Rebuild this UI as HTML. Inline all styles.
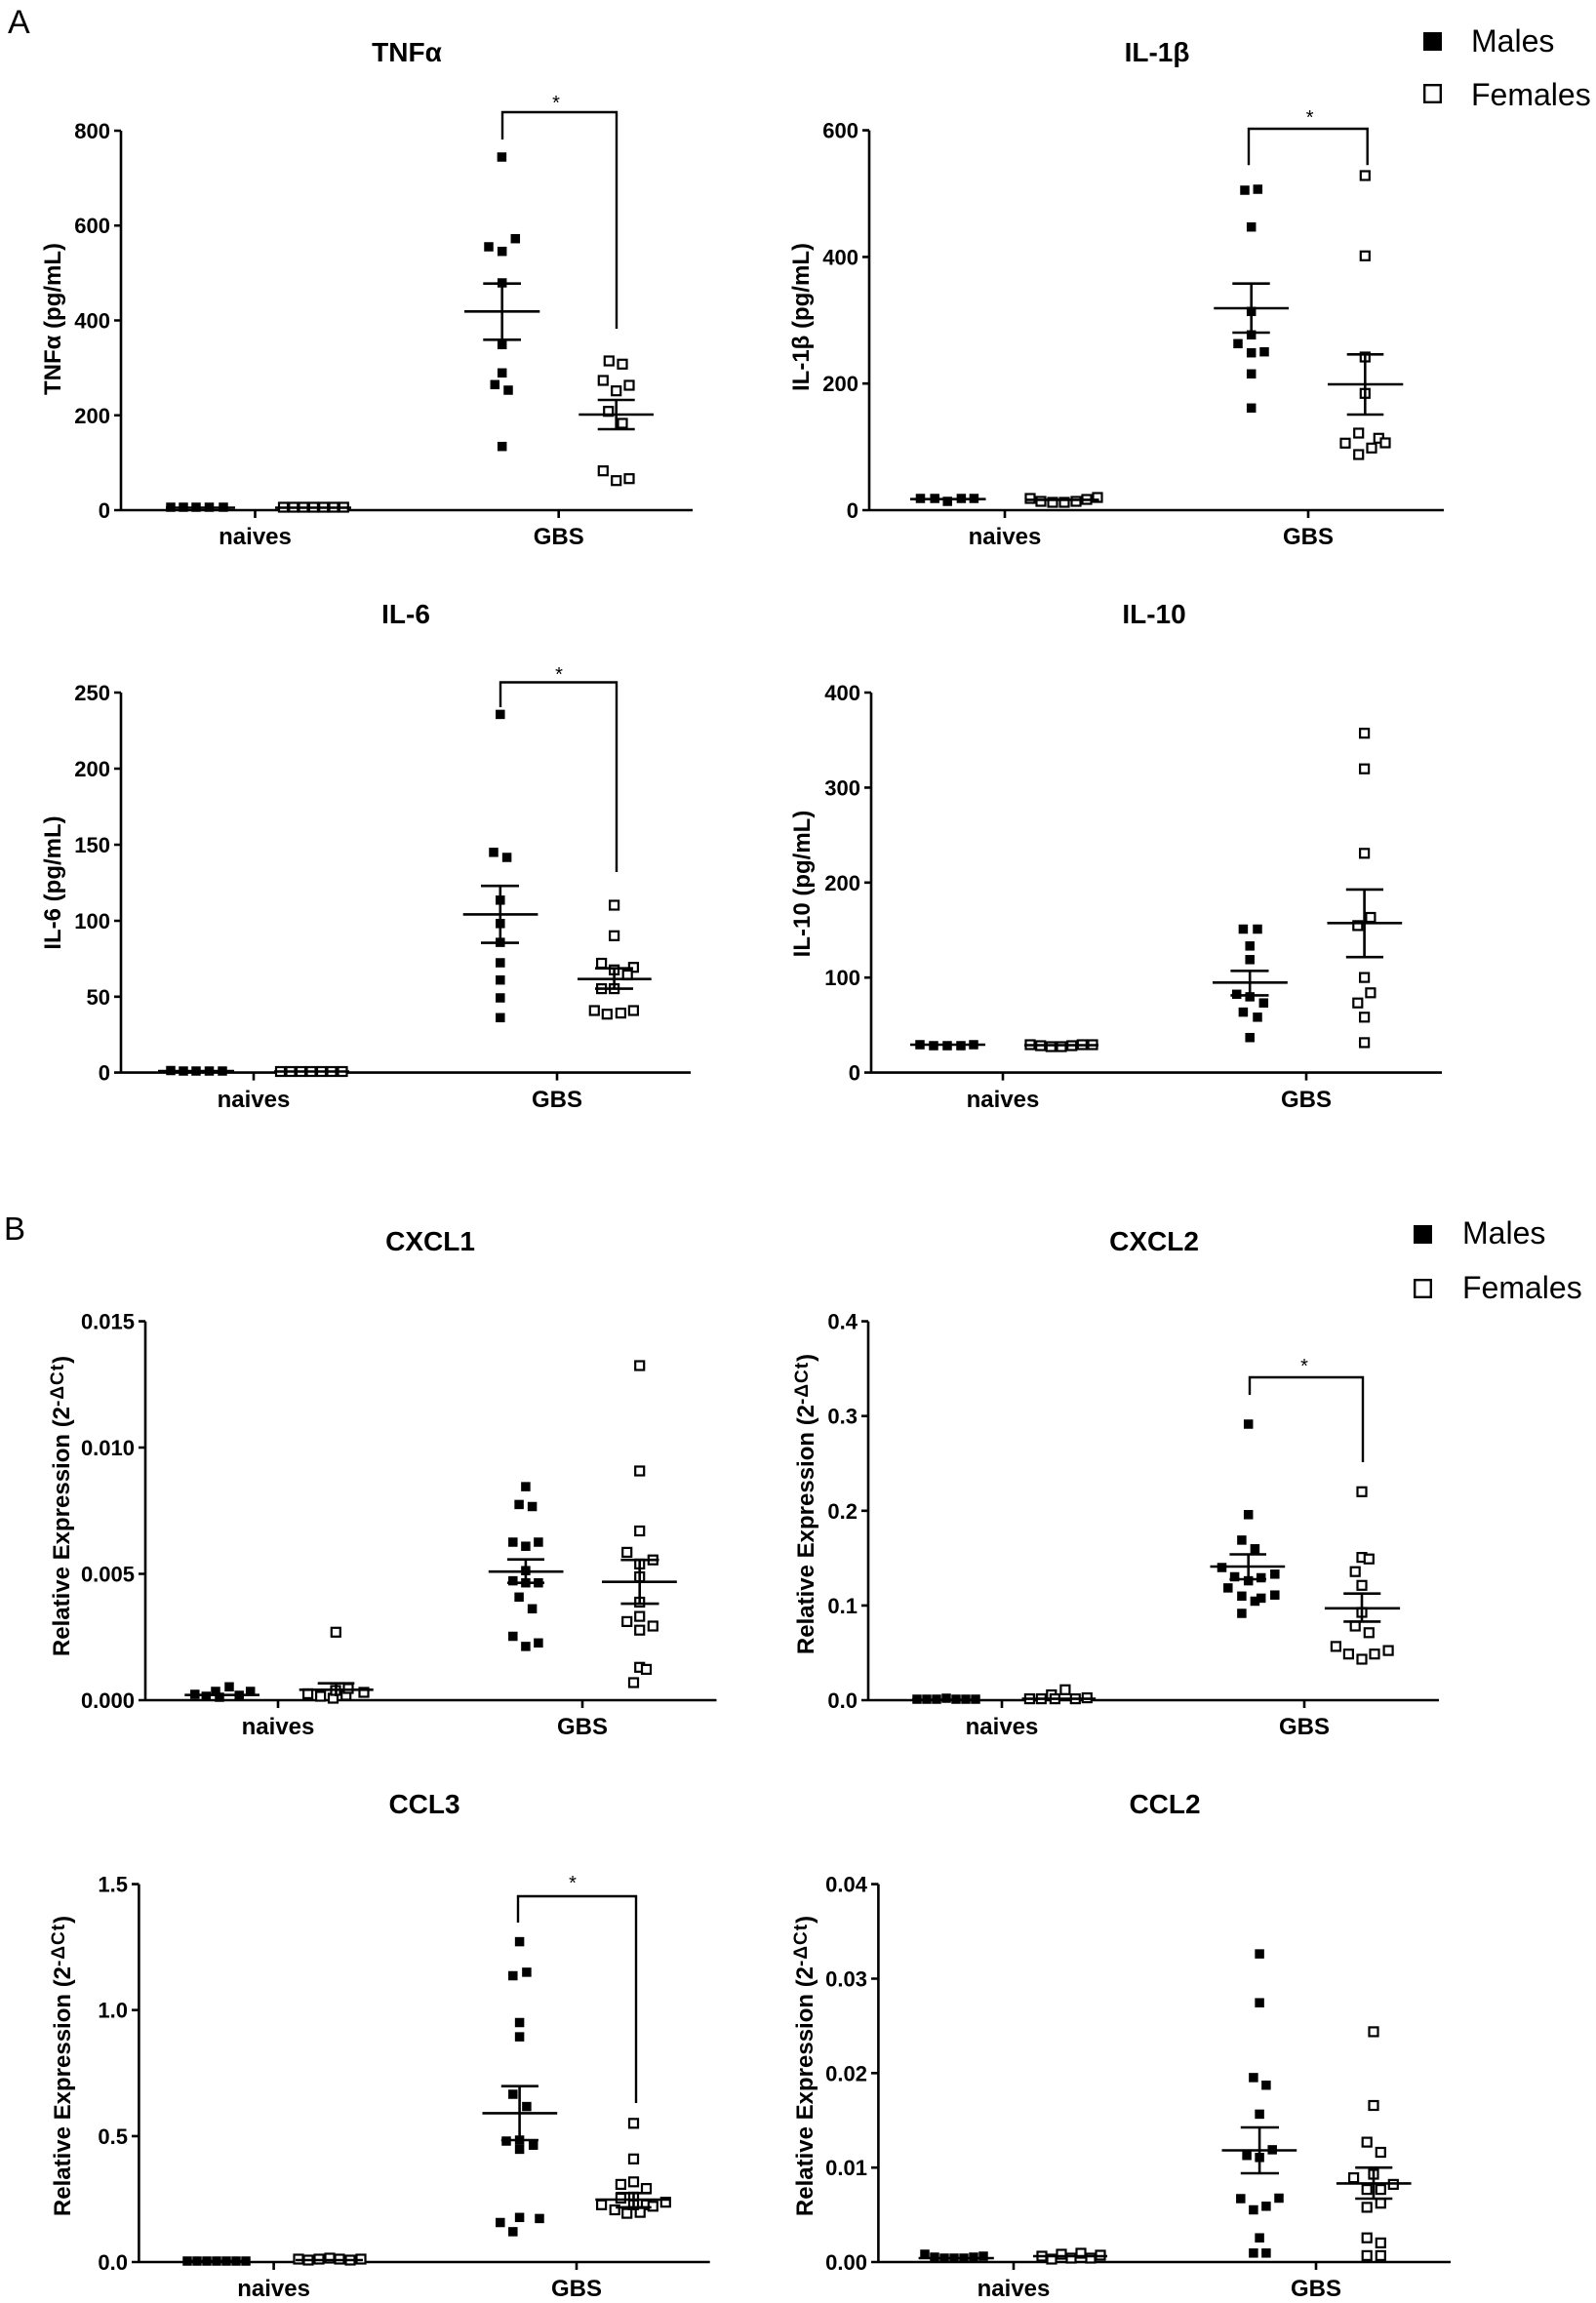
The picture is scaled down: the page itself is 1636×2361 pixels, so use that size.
<!DOCTYPE html>
<html><head><meta charset="utf-8"><style>
html,body{margin:0;padding:0;background:#fff;}
svg{display:block;}
text{font-family:"Liberation Sans",Arial,sans-serif;fill:#000;}
.t{font-size:28px;font-weight:bold;text-anchor:middle;}
.k{font-size:22px;font-weight:bold;text-anchor:end;}
.c{font-size:24px;font-weight:bold;text-anchor:middle;}
.y{font-size:24px;font-weight:bold;text-anchor:middle;}
.sp{font-size:19px;font-weight:bold;letter-spacing:1px;}
.s{font-size:20px;text-anchor:middle;}
.lg{font-size:32px;}
.ax{fill:none;stroke:#000;stroke-width:2.6;}
.ln{fill:none;stroke:#000;stroke-width:2.6;}
.br{fill:none;stroke:#000;stroke-width:2.4;}
</style></head><body>
<svg width="1636" height="2361" viewBox="0 0 1636 2361" xmlns="http://www.w3.org/2000/svg">
<defs>
<rect id="m" x="-4.75" y="-4.75" width="9.5" height="9.5" fill="#000"/>
<rect id="o" x="-4.5" y="-4.5" width="9" height="9" fill="#fff" stroke="#000" stroke-width="2.2"/>
</defs>
<rect width="1636" height="2361" fill="#fff"/>

<!-- Panel labels -->
<text x="8" y="34" style="font-size:34px">A</text>
<text x="4" y="1271" style="font-size:33px">B</text>

<!-- Legends -->
<rect x="1459" y="33" width="19" height="19" fill="#000"/>
<rect x="1460.2" y="87.2" width="16.6" height="17.6" fill="#fff" stroke="#000" stroke-width="2.4"/>
<text class="lg" x="1508" y="53">Males</text>
<text class="lg" x="1508" y="108">Females</text>
<rect x="1449" y="1256" width="19" height="19" fill="#000"/>
<rect x="1450.2" y="1312.2" width="16.6" height="17.6" fill="#fff" stroke="#000" stroke-width="2.4"/>
<text class="lg" x="1499" y="1275">Males</text>
<text class="lg" x="1499" y="1331">Females</text>

<!-- ================= P1 TNFa ================= -->
<text class="t" x="417" y="63">TNFα</text>
<path class="ax" d="M124,134V523M117,523H710M117,134H124M117,231.25H124M117,328.5H124M117,425.75H124M261.5,523V531M572.7,523V531"/>
<text class="k" x="113" y="142">800</text>
<text class="k" x="113" y="239">600</text>
<text class="k" x="113" y="336.5">400</text>
<text class="k" x="113" y="434">200</text>
<text class="k" x="113" y="531">0</text>
<text class="c" x="261.5" y="558">naives</text>
<text class="c" x="572.7" y="558">GBS</text>
<text class="y" transform="translate(62,327) rotate(-90)">TNFα (pg/mL)</text>
<path class="br" d="M515,143V115H632V337"/>
<text class="s" x="570" y="112">*</text>
<g>
<use href="#m" x="175" y="520"/><use href="#m" x="188" y="520"/><use href="#m" x="201" y="520"/><use href="#m" x="214.5" y="520"/><use href="#m" x="229" y="520"/>
<use href="#o" x="290.5" y="520"/><use href="#o" x="300.8" y="520"/><use href="#o" x="311" y="520"/><use href="#o" x="321.4" y="520"/><use href="#o" x="331.7" y="520"/><use href="#o" x="342" y="520"/><use href="#o" x="352.3" y="520"/>
<use href="#m" x="514.4" y="161"/><use href="#m" x="528.3" y="244.7"/><use href="#m" x="501" y="253"/><use href="#m" x="514.7" y="257.7"/><use href="#m" x="514.7" y="290"/><use href="#m" x="514.7" y="353.3"/><use href="#m" x="514.7" y="382.3"/><use href="#m" x="507.3" y="394.3"/><use href="#m" x="521" y="400"/><use href="#m" x="514.7" y="457.7"/>
<use href="#o" x="624.3" y="370"/><use href="#o" x="638" y="373.3"/><use href="#o" x="618.3" y="390"/><use href="#o" x="645" y="395"/><use href="#o" x="631.7" y="400.7"/><use href="#o" x="623.7" y="421.7"/><use href="#o" x="638" y="434"/><use href="#o" x="618.3" y="482.7"/><use href="#o" x="631.7" y="492.7"/><use href="#o" x="645" y="490.7"/>
</g>
<path class="ln" d="M170,520.5H241M282,520.5H360M476,319.3H553.3M514.7,290.7V348.3M495.3,290.7H534M495.3,348.3H534M593.3,425H670M631.7,410V440M612.7,410H650.7M612.7,440H650.7"/>

<!-- ================= P2 IL-1b ================= -->
<text class="t" x="1186" y="63">IL-1β</text>
<path class="ax" d="M891,133.6V523M884,523H1480M884,133.6H891M884,263.4H891M884,393.2H891M1030,523V531M1341,523V531"/>
<text class="k" x="880" y="141.6">600</text>
<text class="k" x="880" y="271.4">400</text>
<text class="k" x="880" y="401.2">200</text>
<text class="k" x="880" y="531">0</text>
<text class="c" x="1030" y="558">naives</text>
<text class="c" x="1341" y="558">GBS</text>
<text class="y" transform="translate(829,325) rotate(-90)">IL-1β (pg/mL)</text>
<path class="br" d="M1280,169.3V132H1401.7V169.3"/>
<text class="s" x="1342.7" y="127">*</text>
<g>
<use href="#m" x="943.5" y="511"/><use href="#m" x="958.2" y="511"/><use href="#m" x="971.2" y="514"/><use href="#m" x="985.4" y="511"/><use href="#m" x="998.4" y="511"/>
<use href="#o" x="1056" y="511"/><use href="#o" x="1067" y="514"/><use href="#o" x="1079" y="515"/><use href="#o" x="1091" y="515"/><use href="#o" x="1103" y="514"/><use href="#o" x="1114" y="512"/><use href="#o" x="1125" y="510"/>
<use href="#m" x="1276" y="195"/><use href="#m" x="1289.3" y="194"/><use href="#m" x="1282.7" y="232.7"/><use href="#m" x="1282.7" y="319.3"/><use href="#m" x="1282.7" y="343.3"/><use href="#m" x="1269" y="352.3"/><use href="#m" x="1296" y="360.7"/><use href="#m" x="1282.7" y="361.7"/><use href="#m" x="1282.7" y="383.3"/><use href="#m" x="1282.7" y="418.3"/>
<use href="#o" x="1399.3" y="180"/><use href="#o" x="1399.3" y="262.3"/><use href="#o" x="1399.3" y="366"/><use href="#o" x="1399.3" y="403.3"/><use href="#o" x="1392.7" y="444"/><use href="#o" x="1379" y="454.3"/><use href="#o" x="1413.3" y="449.3"/><use href="#o" x="1406" y="459.3"/><use href="#o" x="1420" y="454"/><use href="#o" x="1392.7" y="466"/>
</g>
<path class="ln" d="M933,511.7H1010.5M1050.7,512.4H1126.6M1244.3,316H1321M1282.7,290.7V341M1263.3,290.7H1301.7M1263.3,341H1301.7M1361,394H1438.3M1399.3,363.3V425M1380.7,363.3H1418.3M1380.7,425H1418.3"/>

<!-- ================= P3 IL-6 ================= -->
<text class="t" x="416" y="639">IL-6</text>
<path class="ax" d="M124,710V1099.6M117,1099.6H708M117,710H124M117,788H124M117,866H124M117,944H124M117,1021.8H124M260,1099.6V1107.6M571,1099.6V1107.6"/>
<text class="k" x="113" y="718">250</text>
<text class="k" x="113" y="796">200</text>
<text class="k" x="113" y="874">150</text>
<text class="k" x="113" y="952">100</text>
<text class="k" x="113" y="1030">50</text>
<text class="k" x="113" y="1107.6">0</text>
<text class="c" x="260" y="1135">naives</text>
<text class="c" x="571" y="1135">GBS</text>
<text class="y" transform="translate(62,905) rotate(-90)">IL-6 (pg/mL)</text>
<path class="br" d="M513,725V699.5H632V894"/>
<text class="s" x="573" y="698">*</text>
<g>
<use href="#m" x="175" y="1097.5"/><use href="#m" x="188" y="1098"/><use href="#m" x="201" y="1098"/><use href="#m" x="214.5" y="1098"/><use href="#m" x="228" y="1098"/>
<use href="#o" x="287.5" y="1098.5"/><use href="#o" x="298" y="1098.5"/><use href="#o" x="308.5" y="1098.5"/><use href="#o" x="319" y="1098.5"/><use href="#o" x="329.5" y="1098.5"/><use href="#o" x="340" y="1098.5"/><use href="#o" x="351" y="1098.5"/>
<use href="#m" x="512.8" y="732.4"/><use href="#m" x="506" y="873.8"/><use href="#m" x="519.6" y="879"/><use href="#m" x="512.8" y="922.8"/><use href="#m" x="512.8" y="946.8"/><use href="#m" x="512.8" y="966.1"/><use href="#m" x="512.8" y="987"/><use href="#m" x="512.8" y="1004.7"/><use href="#m" x="512.8" y="1023"/><use href="#m" x="512.8" y="1043.3"/>
<use href="#o" x="629.6" y="928"/><use href="#o" x="629.6" y="959.3"/><use href="#o" x="616.6" y="987.5"/><use href="#o" x="649.4" y="991.7"/><use href="#o" x="629.6" y="994.3"/><use href="#o" x="643.2" y="999.5"/><use href="#o" x="616.6" y="1013.6"/><use href="#o" x="629.6" y="1013.6"/><use href="#o" x="609.3" y="1036"/><use href="#o" x="622.3" y="1039.7"/><use href="#o" x="636.4" y="1038.6"/><use href="#o" x="649.4" y="1036"/>
</g>
<path class="ln" d="M162,1098H240M281,1098.5H358M474.7,937.4H551.4M512.8,908.2V966.6M493,908.2H532M493,966.6H532M592,1003.7H667.7M629.6,992.7V1013.6M610,992.7H649M610,1013.6H649"/>

<!-- ================= P4 IL-10 ================= -->
<text class="t" x="1183" y="639">IL-10</text>
<path class="ax" d="M893,710V1099.6M886,1099.6H1478M886,710H893M886,807.4H893M886,904.8H893M886,1002.2H893M1028,1099.6V1107.6M1339,1099.6V1107.6"/>
<text class="k" x="882" y="718">400</text>
<text class="k" x="882" y="815.4">300</text>
<text class="k" x="882" y="912.8">200</text>
<text class="k" x="882" y="1010.2">100</text>
<text class="k" x="882" y="1107.6">0</text>
<text class="c" x="1028" y="1135">naives</text>
<text class="c" x="1339" y="1135">GBS</text>
<text class="y" transform="translate(830,906) rotate(-90)">IL-10 (pg/mL)</text>
<g>
<use href="#m" x="943" y="1071"/><use href="#m" x="957" y="1072"/><use href="#m" x="971" y="1072"/><use href="#m" x="985" y="1072"/><use href="#m" x="998" y="1071"/>
<use href="#o" x="1056" y="1071"/><use href="#o" x="1066.7" y="1072"/><use href="#o" x="1077.3" y="1073"/><use href="#o" x="1088" y="1073"/><use href="#o" x="1098.7" y="1072"/><use href="#o" x="1109.3" y="1071"/><use href="#o" x="1120" y="1071"/>
<use href="#m" x="1274.4" y="952.5"/><use href="#m" x="1289" y="952.5"/><use href="#m" x="1281.2" y="969.8"/><use href="#m" x="1281.2" y="983.8"/><use href="#m" x="1267.7" y="1019.3"/><use href="#m" x="1281.2" y="1021.9"/><use href="#m" x="1295.3" y="1028.2"/><use href="#m" x="1274.4" y="1037.6"/><use href="#m" x="1289" y="1042.8"/><use href="#m" x="1281.2" y="1063.7"/>
<use href="#o" x="1398.6" y="751.7"/><use href="#o" x="1398.6" y="788.2"/><use href="#o" x="1398.6" y="874.8"/><use href="#o" x="1404.9" y="940.5"/><use href="#o" x="1391.8" y="948.9"/><use href="#o" x="1398.6" y="1002.1"/><use href="#o" x="1404.9" y="1017.8"/><use href="#o" x="1391.8" y="1028.2"/><use href="#o" x="1398.6" y="1042.8"/><use href="#o" x="1398.6" y="1068.9"/>
</g>
<path class="ln" d="M933,1071H1010M1050,1071.5H1126M1243,1007.3H1319.8M1281.2,995.3V1020.4M1261.4,995.3H1300.5M1261.4,1020.4H1300.5M1360.5,946.3H1437.2M1398.6,911.9V981.2M1379.8,911.9H1418M1379.8,981.2H1418"/>

<!-- ================= P5 CXCL1 ================= -->
<text class="t" x="441" y="1282">CXCL1</text>
<path class="ax" d="M149,1354.6V1743M142,1743H734.5M142,1354.6H149M142,1484H149M142,1613.5H149M285,1743V1751M597,1743V1751"/>
<text class="k" x="138" y="1362.6">0.015</text>
<text class="k" x="138" y="1492">0.010</text>
<text class="k" x="138" y="1621.5">0.005</text>
<text class="k" x="138" y="1751">0.000</text>
<text class="c" x="285" y="1778">naives</text>
<text class="c" x="597" y="1778">GBS</text>
<text class="y" transform="translate(71,1544) rotate(-90)">Relative Expression (2<tspan class="sp" dy="-6">-ΔCt</tspan><tspan dy="6">)</tspan></text>
<g>
<use href="#m" x="199.8" y="1737"/><use href="#m" x="211.3" y="1739"/><use href="#m" x="221" y="1734"/><use href="#m" x="225" y="1740"/><use href="#m" x="235" y="1729.3"/><use href="#m" x="245.2" y="1738"/><use href="#m" x="256.7" y="1734"/>
<use href="#o" x="344.3" y="1673.3"/><use href="#o" x="315.6" y="1736.4"/><use href="#o" x="328.6" y="1739"/><use href="#o" x="341.5" y="1741"/><use href="#o" x="344" y="1733"/><use href="#o" x="354.7" y="1738"/><use href="#o" x="357" y="1731"/><use href="#o" x="373" y="1735"/>
<use href="#m" x="538.9" y="1524.1"/><use href="#m" x="532.1" y="1542.4"/><use href="#m" x="545.6" y="1544.5"/><use href="#m" x="525.8" y="1581"/><use href="#m" x="538.9" y="1585.2"/><use href="#m" x="551.9" y="1581"/><use href="#m" x="538.9" y="1610.2"/><use href="#m" x="525.8" y="1620.6"/><use href="#m" x="538.9" y="1622.7"/><use href="#m" x="551.9" y="1622.7"/><use href="#m" x="532.1" y="1637.3"/><use href="#m" x="545.6" y="1649.3"/><use href="#m" x="525.8" y="1677.5"/><use href="#m" x="538.9" y="1687.9"/><use href="#m" x="551.9" y="1684.3"/>
<use href="#o" x="655.7" y="1400"/><use href="#o" x="655.7" y="1508"/><use href="#o" x="655.7" y="1569.5"/><use href="#o" x="642.7" y="1591.4"/><use href="#o" x="655.7" y="1603.4"/><use href="#o" x="669.3" y="1599.2"/><use href="#o" x="655.7" y="1616.5"/><use href="#o" x="655.7" y="1642.5"/><use href="#o" x="642.7" y="1662.4"/><use href="#o" x="655.7" y="1657.1"/><use href="#o" x="669.3" y="1667"/><use href="#o" x="655.7" y="1671.2"/><use href="#o" x="655.7" y="1709.3"/><use href="#o" x="662.5" y="1711.4"/><use href="#o" x="649.5" y="1725"/>
</g>
<path class="ln" d="M189.3,1737.7H266M306.7,1732.3H382.7M344.5,1725.7V1739M325.7,1725.7H363.3M500.8,1611.2H577.5M538.9,1598.7V1622.7M520,1598.7H558M520,1622.7H558M617,1621.7H693.8M655.7,1599.2V1644.1M636.4,1599.2H675.5M636.4,1644.1H675.5"/>

<!-- ================= P6 CXCL2 ================= -->
<text class="t" x="1183" y="1282">CXCL2</text>
<path class="ax" d="M890,1354.6V1743M883,1743H1475M883,1354.6H890M883,1451.7H890M883,1548.8H890M883,1645.9H890M1027,1743V1751M1337,1743V1751"/>
<text class="k" x="879" y="1362.6">0.4</text>
<text class="k" x="879" y="1459.7">0.3</text>
<text class="k" x="879" y="1556.8">0.2</text>
<text class="k" x="879" y="1653.9">0.1</text>
<text class="k" x="879" y="1751">0.0</text>
<text class="c" x="1027" y="1778">naives</text>
<text class="c" x="1337" y="1778">GBS</text>
<text class="y" transform="translate(834,1542) rotate(-90)">Relative Expression (2<tspan class="sp" dy="-6">-ΔCt</tspan><tspan dy="6">)</tspan></text>
<path class="br" d="M1281,1430V1412H1397V1499"/>
<text class="s" x="1337" y="1407">*</text>
<g>
<use href="#m" x="940" y="1742"/><use href="#m" x="950" y="1742"/><use href="#m" x="960" y="1742"/><use href="#m" x="970" y="1741"/><use href="#m" x="980" y="1742"/><use href="#m" x="990" y="1742"/><use href="#m" x="1000" y="1742"/>
<use href="#o" x="1055.4" y="1741.6"/><use href="#o" x="1067.3" y="1741.6"/><use href="#o" x="1077.8" y="1737.5"/><use href="#o" x="1081.4" y="1741.6"/><use href="#o" x="1091.9" y="1732.3"/><use href="#o" x="1102.3" y="1741.6"/><use href="#o" x="1114.3" y="1740.6"/>
<use href="#m" x="1279.7" y="1460"/><use href="#m" x="1279.7" y="1552.8"/><use href="#m" x="1272.9" y="1578.9"/><use href="#m" x="1286.4" y="1587.8"/><use href="#m" x="1252.5" y="1607"/><use href="#m" x="1265.6" y="1616.5"/><use href="#m" x="1279.7" y="1620.6"/><use href="#m" x="1292.7" y="1617.5"/><use href="#m" x="1306.8" y="1613.8"/><use href="#m" x="1258.8" y="1627.9"/><use href="#m" x="1272.9" y="1636.3"/><use href="#m" x="1292.7" y="1638.4"/><use href="#m" x="1306.8" y="1635.2"/><use href="#m" x="1286.4" y="1641.5"/><use href="#m" x="1272.9" y="1654"/>
<use href="#o" x="1396" y="1529.3"/><use href="#o" x="1396" y="1596.6"/><use href="#o" x="1403.3" y="1598.2"/><use href="#o" x="1389.2" y="1611.2"/><use href="#o" x="1396" y="1625.3"/><use href="#o" x="1396" y="1653"/><use href="#o" x="1389.2" y="1667"/><use href="#o" x="1403.3" y="1673.8"/><use href="#o" x="1369.4" y="1687.9"/><use href="#o" x="1382.4" y="1695.7"/><use href="#o" x="1396" y="1701"/><use href="#o" x="1409" y="1695.7"/><use href="#o" x="1423.1" y="1692.1"/>
</g>
<path class="ln" d="M935,1742.5H1001M1047.5,1741.6H1123.2M1240.5,1606H1317.2M1279.7,1593.5V1619M1260.4,1593.5H1298M1260.4,1619H1298M1357.9,1648.8H1435.1M1396,1633.7V1662.4M1377.2,1633.7H1415.3M1377.2,1662.4H1415.3"/>

<!-- ================= P7 CCL3 ================= -->
<text class="t" x="435" y="1859">CCL3</text>
<path class="ax" d="M142.4,1931.6V2319M135,2319H727.7M135,1931.6H142.4M135,2060.7H142.4M135,2189.9H142.4M280.6,2319V2327M591,2319V2327"/>
<text class="k" x="131" y="1939.6">1.5</text>
<text class="k" x="131" y="2068.7">1.0</text>
<text class="k" x="131" y="2197.9">0.5</text>
<text class="k" x="131" y="2327">0.0</text>
<text class="c" x="280.6" y="2354">naives</text>
<text class="c" x="591" y="2354">GBS</text>
<text class="y" transform="translate(72,2118) rotate(-90)">Relative Expression (2<tspan class="sp" dy="-6">-ΔCt</tspan><tspan dy="6">)</tspan></text>
<path class="br" d="M531,1971V1944H652V2156"/>
<text class="s" x="587" y="1937">*</text>
<g>
<use href="#m" x="192" y="2318"/><use href="#m" x="202" y="2318"/><use href="#m" x="212" y="2318"/><use href="#m" x="222" y="2318"/><use href="#m" x="232" y="2318"/><use href="#m" x="242" y="2318"/><use href="#m" x="252" y="2318"/>
<use href="#o" x="306" y="2316"/><use href="#o" x="316" y="2317"/><use href="#o" x="327" y="2316"/><use href="#o" x="338" y="2315"/><use href="#o" x="348" y="2316"/><use href="#o" x="359" y="2317"/><use href="#o" x="370" y="2316"/>
<use href="#m" x="532.6" y="1990.6"/><use href="#m" x="525.8" y="2025.5"/><use href="#m" x="539.9" y="2021.9"/><use href="#m" x="532.6" y="2073.5"/><use href="#m" x="532.6" y="2088.1"/><use href="#m" x="525.8" y="2147"/><use href="#m" x="539.9" y="2159.6"/><use href="#m" x="519" y="2195"/><use href="#m" x="532.6" y="2194"/><use href="#m" x="546.7" y="2199.2"/><use href="#m" x="532.6" y="2203.4"/><use href="#m" x="512.8" y="2278.5"/><use href="#m" x="532.6" y="2273.3"/><use href="#m" x="553" y="2274.4"/><use href="#m" x="525.8" y="2287.9"/>
<use href="#o" x="649.5" y="2176.8"/><use href="#o" x="649.5" y="2213.3"/><use href="#o" x="636.4" y="2239.4"/><use href="#o" x="649.5" y="2236.8"/><use href="#o" x="662.5" y="2243.6"/><use href="#o" x="649.5" y="2252.4"/><use href="#o" x="636.4" y="2253.5"/><use href="#o" x="662.5" y="2260.3"/><use href="#o" x="616.6" y="2260.3"/><use href="#o" x="630.2" y="2265.5"/><use href="#o" x="642.7" y="2269.1"/><use href="#o" x="656.2" y="2268.1"/><use href="#o" x="682.3" y="2257.7"/><use href="#o" x="669.3" y="2261.8"/><use href="#o" x="649.5" y="2260.3"/>
</g>
<path class="ln" d="M190,2318H253M303,2317H372M494.5,2166.4H571.2M532.6,2138.7V2194M513.8,2138.7H551.9M513.8,2194H551.9M610.3,2255H687.5M649.5,2248.3V2262.9M631.2,2248.3H667.7M631.2,2262.9H667.7"/>

<!-- ================= P8 CCL2 ================= -->
<text class="t" x="1194" y="1859">CCL2</text>
<path class="ax" d="M900.4,1931.6V2319M893,2319H1487M893,1931.6H900.4M893,2028.5H900.4M893,2125.3H900.4M893,2222.2H900.4M1039,2319V2327M1349,2319V2327"/>
<text class="k" x="889" y="1939.6">0.04</text>
<text class="k" x="889" y="2036.5">0.03</text>
<text class="k" x="889" y="2133.3">0.02</text>
<text class="k" x="889" y="2230.2">0.01</text>
<text class="k" x="889" y="2327">0.00</text>
<text class="c" x="1039" y="2354">naives</text>
<text class="c" x="1349" y="2354">GBS</text>
<text class="y" transform="translate(833,2118) rotate(-90)">Relative Expression (2<tspan class="sp" dy="-6">-ΔCt</tspan><tspan dy="6">)</tspan></text>
<g>
<use href="#m" x="948" y="2311"/><use href="#m" x="958" y="2314"/><use href="#m" x="968" y="2315"/><use href="#m" x="978" y="2315"/><use href="#m" x="988" y="2315"/><use href="#m" x="998" y="2314"/><use href="#m" x="1008" y="2313"/>
<use href="#o" x="1068" y="2313"/><use href="#o" x="1078" y="2316"/><use href="#o" x="1088" y="2311"/><use href="#o" x="1098" y="2315"/><use href="#o" x="1108" y="2310"/><use href="#o" x="1118" y="2315"/><use href="#o" x="1128" y="2312"/>
<use href="#m" x="1291.1" y="2003.1"/><use href="#m" x="1291.1" y="2053.2"/><use href="#m" x="1284.9" y="2129.9"/><use href="#m" x="1297.9" y="2137.7"/><use href="#m" x="1291.1" y="2167.4"/><use href="#m" x="1278.1" y="2209.7"/><use href="#m" x="1291.1" y="2211.8"/><use href="#m" x="1304.2" y="2203.9"/><use href="#m" x="1271.8" y="2254"/><use href="#m" x="1311" y="2253.5"/><use href="#m" x="1284.9" y="2265.5"/><use href="#m" x="1297.9" y="2261.8"/><use href="#m" x="1291.1" y="2294.2"/><use href="#m" x="1284.9" y="2309.8"/><use href="#m" x="1297.9" y="2309.8"/>
<use href="#o" x="1408" y="2082.9"/><use href="#o" x="1408" y="2158.5"/><use href="#o" x="1401.2" y="2196.1"/><use href="#o" x="1415.3" y="2206.5"/><use href="#o" x="1387.6" y="2232.6"/><use href="#o" x="1408" y="2229"/><use href="#o" x="1401.2" y="2244.6"/><use href="#o" x="1415.3" y="2244.6"/><use href="#o" x="1428.3" y="2239.4"/><use href="#o" x="1401.2" y="2262.9"/><use href="#o" x="1415.3" y="2258.7"/><use href="#o" x="1401.2" y="2294.2"/><use href="#o" x="1415.3" y="2299.4"/><use href="#o" x="1401.2" y="2312.4"/><use href="#o" x="1415.3" y="2312.4"/>
</g>
<path class="ln" d="M941.6,2315H1018.8M1059,2313H1135M1252.5,2204.5H1329.2M1291.1,2181V2228M1271.8,2181H1311M1271.8,2228H1311M1369.9,2238.4H1446.6M1408,2222.2V2254M1389.2,2222.2H1427.3M1389.2,2254H1427.3"/>
</svg>
</body></html>
